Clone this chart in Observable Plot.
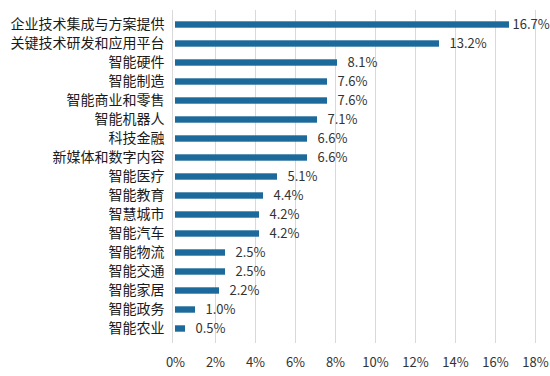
<!DOCTYPE html>
<html>
<head>
<meta charset="utf-8">
<script src="https://cdn.jsdelivr.net/npm/d3@7"></script>
<script src="https://cdn.jsdelivr.net/npm/@observablehq/plot@0.6"></script>
<style>
  html, body { margin: 0; padding: 0; background: #fff; }
  #chart { width: 550px; height: 376px; }
</style>
</head>
<body>
<div id="chart"></div>
<script>
const categories = [
  "企业技术集成与方案提供", "关键技术研发和应用平台", "智能硬件", "智能制造",
  "智能商业和零售", "智能机器人", "科技金融", "新媒体和数字内容", "智能医疗",
  "智能教育", "智慧城市", "智能汽车", "智能物流", "智能交通", "智能家居",
  "智能政务", "智能农业"
];
const values = [16.7, 13.2, 8.1, 7.6, 7.6, 7.1, 6.6, 6.6, 5.1, 4.4, 4.2, 4.2, 2.5, 2.5, 2.2, 1.0, 0.5];
const xTicks = [0, 2, 4, 6, 8, 10, 12, 14, 16, 18];

const data = categories.map((c, i) => ({category: c, value: values[i]}));
const maxVal = d3.max(values);
const fmt = v => v.toFixed(1) + "%";
const font = "'Noto Sans CJK SC', 'Noto Sans', sans-serif";

const chart = Plot.plot({
  width: 550,
  height: 376,
  marginLeft: 175,
  marginRight: 15,
  marginTop: 10,
  marginBottom: 33,
  style: {fontFamily: font, background: "#fff", color: "#222"},
  x: {domain: [0, 18], ticks: xTicks, label: null},
  y: {domain: categories, padding: 0, label: null},
  marks: [
    Plot.gridX(xTicks.filter(t => t > 0), {stroke: "#d9d9d9", strokeOpacity: 1, strokeWidth: 1}),
    Plot.axisX(xTicks, {tickSize: 0, tickPadding: 14, tickFormat: d => d + "%", fontSize: 13, fill: "#333", label: null}),
    Plot.axisY({tickSize: 0, tickPadding: 11, fontSize: 14, fill: "#1a1a1a", label: null}),
    Plot.ruleX([0], {stroke: "#d9d9d9", dx: -3}),
    Plot.barX(data, {x: "value", y: "category", fill: "#1c6a9b", insetTop: 6.3, insetBottom: 6.3}),
    Plot.text(data.filter(d => d.value < maxVal), {x: "value", y: "category", text: d => fmt(d.value), textAnchor: "start", dx: 10, fontSize: 13, fill: "#333"}),
    Plot.text(data.filter(d => d.value === maxVal), {x: "value", y: "category", text: d => fmt(d.value), textAnchor: "start", dx: 3, fontSize: 13, fill: "#333"})
  ]
});
document.getElementById("chart").appendChild(chart);
</script>
</body>
</html>
